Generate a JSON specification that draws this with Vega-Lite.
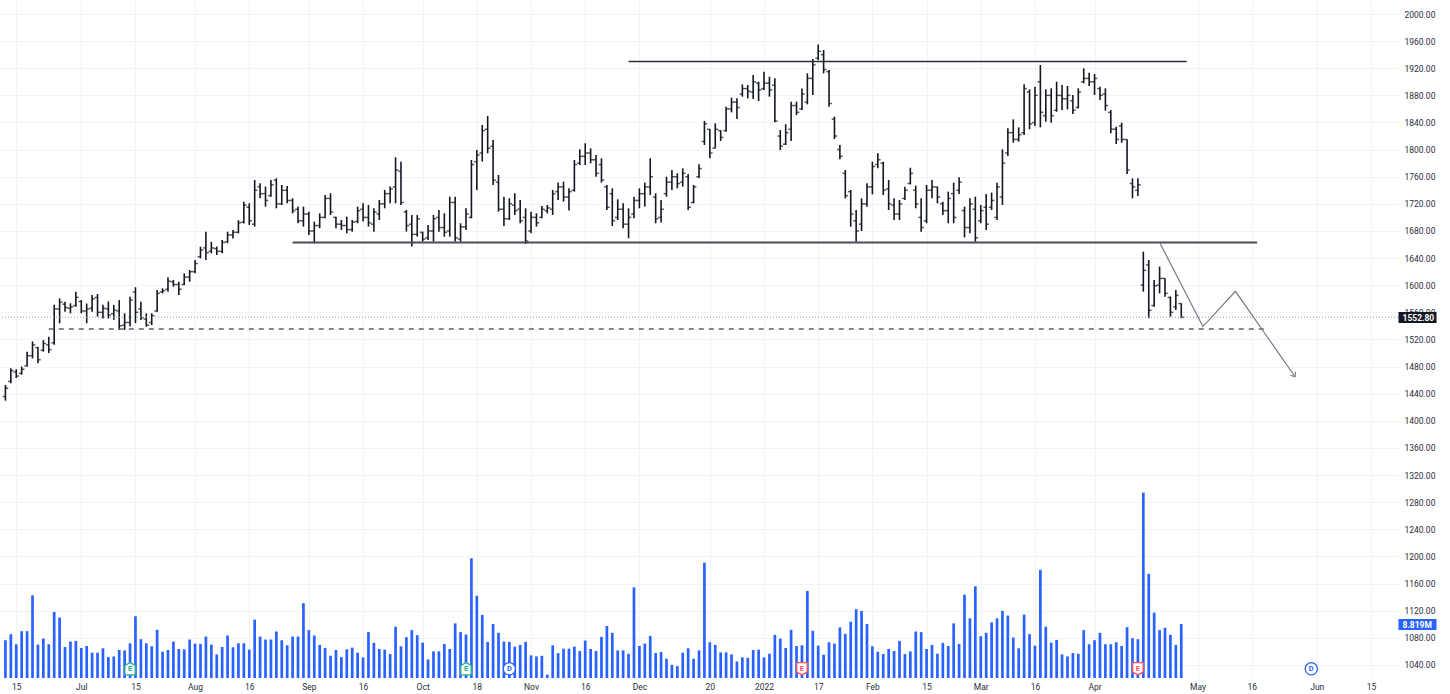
{
  "$schema": "https://vega.github.io/schema/vega-lite/v6.json",
  "width": 1398,
  "height": 678,
  "autosize": {"type": "none"},
  "padding": {"left": 0, "top": 0, "right": 52, "bottom": 16},
  "background": "#ffffff",
  "config": {
    "view": {"stroke": null},
    "font": "Roboto",
    "axis": {"labelFont": "Roboto", "titleFont": "Roboto"}
  },
  "datasets": {
    "bars": [
      {"date":"2021-06-11","open":1436,"high":1452.8,"low":1429.7,"close":1448,"volume":6170000},
      {"date":"2021-06-14","open":1458,"high":1477.4,"low":1455.3,"close":1474,"volume":7160000},
      {"date":"2021-06-15","open":1472,"high":1476,"low":1463,"close":1466,"volume":5510000},
      {"date":"2021-06-16","open":1470,"high":1480,"low":1468,"close":1476,"volume":7650000},
      {"date":"2021-06-17","open":1481,"high":1502,"low":1480,"close":1496,"volume":7650000},
      {"date":"2021-06-18","open":1496,"high":1517,"low":1492,"close":1512,"volume":13490000},
      {"date":"2021-06-21","open":1508,"high":1509,"low":1485,"close":1490,"volume":5450000},
      {"date":"2021-06-22","open":1504,"high":1519,"low":1502,"close":1514,"volume":6440000},
      {"date":"2021-06-23","open":1512,"high":1524,"low":1500,"close":1505,"volume":5510000},
      {"date":"2021-06-24","open":1515,"high":1571,"low":1512,"close":1565,"volume":10790000},
      {"date":"2021-06-25","open":1565,"high":1580.6,"low":1543.8,"close":1575,"volume":9860000},
      {"date":"2021-06-28","open":1572,"high":1575.7,"low":1561,"close":1567,"volume":5070000},
      {"date":"2021-06-29","open":1566,"high":1573.3,"low":1558.5,"close":1568,"volume":5950000},
      {"date":"2021-06-30","open":1570,"high":1590.5,"low":1568.3,"close":1582,"volume":6060000},
      {"date":"2021-07-01","open":1576,"high":1578,"low":1558.5,"close":1562,"volume":4900000},
      {"date":"2021-07-02","open":1562,"high":1573,"low":1544,"close":1565,"volume":5230000},
      {"date":"2021-07-05","open":1566,"high":1585.5,"low":1561,"close":1580,"volume":4130000},
      {"date":"2021-07-06","open":1582,"high":1587,"low":1553.6,"close":1560,"volume":4130000},
      {"date":"2021-07-07","open":1560,"high":1571,"low":1551,"close":1566,"volume":4850000},
      {"date":"2021-07-08","open":1565,"high":1576,"low":1551,"close":1556,"volume":3410000},
      {"date":"2021-07-09","open":1558,"high":1571,"low":1549,"close":1563,"volume":3520000},
      {"date":"2021-07-12","open":1562,"high":1578,"low":1534,"close":1540,"volume":4570000},
      {"date":"2021-07-13","open":1541,"high":1558.5,"low":1534,"close":1545,"volume":4510000},
      {"date":"2021-07-14","open":1545,"high":1583,"low":1539,"close":1578,"volume":5670000},
      {"date":"2021-07-15","open":1590,"high":1597,"low":1544,"close":1560,"volume":10080000},
      {"date":"2021-07-16","open":1565,"high":1575.7,"low":1548.7,"close":1552,"volume":6330000},
      {"date":"2021-07-19","open":1550,"high":1558.5,"low":1538.8,"close":1541,"volume":5670000},
      {"date":"2021-07-20","open":1545,"high":1558.5,"low":1541,"close":1555,"volume":5180000},
      {"date":"2021-07-22","open":1562,"high":1593,"low":1561,"close":1588,"volume":7870000},
      {"date":"2021-07-23","open":1590,"high":1595.4,"low":1588,"close":1592,"volume":4290000},
      {"date":"2021-07-26","open":1594,"high":1611.6,"low":1590.5,"close":1606,"volume":4570000},
      {"date":"2021-07-27","open":1605,"high":1607.7,"low":1597.8,"close":1601,"volume":5950000},
      {"date":"2021-07-28","open":1601,"high":1605,"low":1585.5,"close":1594,"volume":4740000},
      {"date":"2021-07-29","open":1601,"high":1617.5,"low":1600,"close":1612,"volume":4680000},
      {"date":"2021-07-30","open":1612,"high":1622.4,"low":1605,"close":1620,"volume":6280000},
      {"date":"2021-08-02","open":1620,"high":1637,"low":1617.5,"close":1632,"volume":5620000},
      {"date":"2021-08-03","open":1642,"high":1656.8,"low":1639.6,"close":1652,"volume":5560000},
      {"date":"2021-08-04","open":1655,"high":1679,"low":1637,"close":1648,"volume":6770000},
      {"date":"2021-08-05","open":1650,"high":1664,"low":1647,"close":1655,"volume":5450000},
      {"date":"2021-08-06","open":1654,"high":1657,"low":1644.5,"close":1650,"volume":3850000},
      {"date":"2021-08-09","open":1650,"high":1666.7,"low":1647,"close":1663,"volume":5070000},
      {"date":"2021-08-10","open":1664,"high":1679,"low":1662,"close":1674,"volume":6940000},
      {"date":"2021-08-11","open":1674,"high":1681.4,"low":1669,"close":1678,"volume":5010000},
      {"date":"2021-08-12","open":1678,"high":1696,"low":1676.5,"close":1692,"volume":5670000},
      {"date":"2021-08-13","open":1693,"high":1723,"low":1691,"close":1718,"volume":5670000},
      {"date":"2021-08-16","open":1715,"high":1720.8,"low":1688.9,"close":1695,"volume":4630000},
      {"date":"2021-08-17","open":1690,"high":1755.2,"low":1686.4,"close":1740,"volume":9530000},
      {"date":"2021-08-18","open":1745,"high":1750.3,"low":1728.2,"close":1735,"volume":6770000},
      {"date":"2021-08-20","open":1735,"high":1745.4,"low":1715.9,"close":1725,"volume":6280000},
      {"date":"2021-08-23","open":1732,"high":1755.2,"low":1730.6,"close":1748,"volume":6280000},
      {"date":"2021-08-24","open":1755,"high":1757.7,"low":1713.4,"close":1720,"volume":7600000},
      {"date":"2021-08-25","open":1720,"high":1747.8,"low":1718.3,"close":1740,"volume":6170000},
      {"date":"2021-08-26","open":1740,"high":1746.4,"low":1720.8,"close":1725,"volume":5340000},
      {"date":"2021-08-27","open":1725,"high":1728.2,"low":1706,"close":1710,"volume":6770000},
      {"date":"2021-08-30","open":1712,"high":1715.9,"low":1691.3,"close":1695,"volume":6770000},
      {"date":"2021-08-31","open":1695,"high":1715.9,"low":1686.4,"close":1705,"volume":12220000},
      {"date":"2021-09-01","open":1705,"high":1708.5,"low":1674.1,"close":1680,"volume":7820000},
      {"date":"2021-09-02","open":1680,"high":1693.8,"low":1661.8,"close":1688,"volume":6940000},
      {"date":"2021-09-03","open":1688,"high":1706,"low":1684,"close":1700,"volume":5400000},
      {"date":"2021-09-06","open":1700,"high":1733,"low":1698.7,"close":1728,"volume":4900000},
      {"date":"2021-09-07","open":1728,"high":1735.6,"low":1703.6,"close":1708,"volume":3630000},
      {"date":"2021-09-08","open":1700,"high":1701,"low":1684,"close":1690,"volume":4570000},
      {"date":"2021-09-09","open":1690,"high":1696.2,"low":1681.5,"close":1688,"volume":3410000},
      {"date":"2021-09-13","open":1688,"high":1701,"low":1676.6,"close":1682,"volume":4680000},
      {"date":"2021-09-14","open":1682,"high":1696.2,"low":1679,"close":1693,"volume":4960000},
      {"date":"2021-09-15","open":1694,"high":1715.9,"low":1691.3,"close":1710,"volume":4130000},
      {"date":"2021-09-16","open":1712,"high":1720.8,"low":1693.8,"close":1700,"volume":3360000},
      {"date":"2021-09-17","open":1700,"high":1718.3,"low":1686.4,"close":1692,"volume":7490000},
      {"date":"2021-09-20","open":1690,"high":1713.4,"low":1679,"close":1708,"volume":5730000},
      {"date":"2021-09-21","open":1705,"high":1725.7,"low":1696.2,"close":1720,"volume":4740000},
      {"date":"2021-09-22","open":1720,"high":1740.5,"low":1713.4,"close":1735,"volume":4630000},
      {"date":"2021-09-23","open":1735,"high":1745.4,"low":1720.8,"close":1742,"volume":3910000},
      {"date":"2021-09-24","open":1745,"high":1788.6,"low":1720.8,"close":1770,"volume":8370000},
      {"date":"2021-09-27","open":1768,"high":1782.2,"low":1718.3,"close":1722,"volume":5180000},
      {"date":"2021-09-28","open":1708,"high":1711,"low":1679,"close":1688,"volume":6660000},
      {"date":"2021-09-29","open":1690,"high":1703.6,"low":1656.9,"close":1675,"volume":7820000},
      {"date":"2021-09-30","open":1675,"high":1703.6,"low":1671.6,"close":1698,"volume":6990000},
      {"date":"2021-10-01","open":1678,"high":1679,"low":1664.3,"close":1668,"volume":5780000},
      {"date":"2021-10-04","open":1670,"high":1688.9,"low":1666.7,"close":1680,"volume":3030000},
      {"date":"2021-10-05","open":1680,"high":1703.6,"low":1664.3,"close":1698,"volume":4350000},
      {"date":"2021-10-06","open":1700,"high":1711,"low":1679,"close":1685,"volume":4350000},
      {"date":"2021-10-07","open":1685,"high":1706,"low":1671.6,"close":1678,"volume":5560000},
      {"date":"2021-10-08","open":1680,"high":1730.6,"low":1671.6,"close":1722,"volume":4740000},
      {"date":"2021-10-11","open":1722,"high":1730.6,"low":1664.3,"close":1670,"volume":8920000},
      {"date":"2021-10-12","open":1668,"high":1691.3,"low":1664.3,"close":1686,"volume":7490000},
      {"date":"2021-10-13","open":1686,"high":1713.4,"low":1681.5,"close":1705,"volume":7100000},
      {"date":"2021-10-14","open":1700,"high":1784.7,"low":1698.7,"close":1778,"volume":19550000},
      {"date":"2021-10-18","open":1782,"high":1799.5,"low":1740.5,"close":1792,"volume":13430000},
      {"date":"2021-10-19","open":1795,"high":1836.3,"low":1782.3,"close":1828,"volume":10300000},
      {"date":"2021-10-20","open":1830,"high":1849.6,"low":1794.5,"close":1802,"volume":5890000},
      {"date":"2021-10-21","open":1805,"high":1814.2,"low":1747.8,"close":1755,"volume":8810000},
      {"date":"2021-10-22","open":1752,"high":1762.6,"low":1708.5,"close":1712,"volume":7380000},
      {"date":"2021-10-25","open":1712,"high":1730.6,"low":1687.4,"close":1698,"volume":5950000},
      {"date":"2021-10-26","open":1698,"high":1728.2,"low":1696.2,"close":1720,"volume":5890000},
      {"date":"2021-10-27","open":1718,"high":1735.6,"low":1703.6,"close":1710,"volume":5120000},
      {"date":"2021-10-28","open":1712,"high":1725.7,"low":1691.3,"close":1695,"volume":5400000},
      {"date":"2021-10-29","open":1700,"high":1713.4,"low":1660.8,"close":1665,"volume":5890000},
      {"date":"2021-11-01","open":1680,"high":1708.5,"low":1676.6,"close":1700,"volume":3690000},
      {"date":"2021-11-02","open":1700,"high":1706,"low":1686.4,"close":1692,"volume":3520000},
      {"date":"2021-11-03","open":1700,"high":1716.9,"low":1698.7,"close":1712,"volume":3630000},
      {"date":"2021-11-04","open":1710,"high":1718.3,"low":1706,"close":1714,"volume":550000},
      {"date":"2021-11-08","open":1712,"high":1740.5,"low":1703.6,"close":1735,"volume":5340000},
      {"date":"2021-11-09","open":1738,"high":1751.3,"low":1725.7,"close":1745,"volume":4070000},
      {"date":"2021-11-10","open":1745,"high":1752.8,"low":1723.3,"close":1730,"volume":4790000},
      {"date":"2021-11-11","open":1730,"high":1742.9,"low":1710,"close":1738,"volume":4790000},
      {"date":"2021-11-12","open":1740,"high":1784.7,"low":1738,"close":1778,"volume":5120000},
      {"date":"2021-11-15","open":1780,"high":1800.4,"low":1777.3,"close":1790,"volume":4400000},
      {"date":"2021-11-16","open":1790,"high":1809.3,"low":1777.3,"close":1795,"volume":6110000},
      {"date":"2021-11-17","open":1795,"high":1801.9,"low":1779.8,"close":1785,"volume":4740000},
      {"date":"2021-11-18","open":1785,"high":1792.1,"low":1760.1,"close":1765,"volume":4400000},
      {"date":"2021-11-22","open":1778,"high":1787.2,"low":1751.3,"close":1755,"volume":6720000},
      {"date":"2021-11-23","open":1745,"high":1747.8,"low":1711,"close":1715,"volume":8480000},
      {"date":"2021-11-24","open":1735,"high":1742.9,"low":1687.4,"close":1695,"volume":7380000},
      {"date":"2021-11-25","open":1700,"high":1726.7,"low":1696.2,"close":1712,"volume":4510000},
      {"date":"2021-11-26","open":1712,"high":1720.8,"low":1683.9,"close":1690,"volume":4510000},
      {"date":"2021-11-29","open":1690,"high":1713.4,"low":1669.2,"close":1700,"volume":3960000},
      {"date":"2021-11-30","open":1705,"high":1730.6,"low":1698.7,"close":1725,"volume":14810000},
      {"date":"2021-12-01","open":1725,"high":1742.9,"low":1713.4,"close":1735,"volume":5230000},
      {"date":"2021-12-02","open":1735,"high":1751.3,"low":1715.9,"close":1745,"volume":5620000},
      {"date":"2021-12-03","open":1745,"high":1787.2,"low":1733.1,"close":1760,"volume":6880000},
      {"date":"2021-12-06","open":1730,"high":1735.6,"low":1691.3,"close":1698,"volume":4070000},
      {"date":"2021-12-07","open":1700,"high":1725.7,"low":1692.3,"close":1712,"volume":4240000},
      {"date":"2021-12-08","open":1735,"high":1760.1,"low":1730.6,"close":1752,"volume":3140000},
      {"date":"2021-12-09","open":1752,"high":1770,"low":1740.5,"close":1760,"volume":2150000},
      {"date":"2021-12-10","open":1760,"high":1765.1,"low":1742.9,"close":1750,"volume":1930000},
      {"date":"2021-12-13","open":1752,"high":1772.4,"low":1745.4,"close":1765,"volume":4130000},
      {"date":"2021-12-14","open":1760,"high":1764.1,"low":1711,"close":1715,"volume":4850000},
      {"date":"2021-12-15","open":1722,"high":1747.8,"low":1720.7,"close":1745,"volume":3140000},
      {"date":"2021-12-16","open":1760,"high":1778.3,"low":1757.6,"close":1772,"volume":4510000},
      {"date":"2021-12-17","open":1812,"high":1842.2,"low":1806.8,"close":1838,"volume":18830000},
      {"date":"2021-12-20","open":1830,"high":1830.4,"low":1787.1,"close":1795,"volume":5840000},
      {"date":"2021-12-21","open":1802,"high":1838.7,"low":1801.9,"close":1830,"volume":5400000},
      {"date":"2021-12-22","open":1828,"high":1828.9,"low":1812.7,"close":1818,"volume":4180000},
      {"date":"2021-12-23","open":1828,"high":1863.3,"low":1826.4,"close":1860,"volume":4180000},
      {"date":"2021-12-24","open":1860,"high":1876.6,"low":1854.9,"close":1870,"volume":3850000},
      {"date":"2021-12-27","open":1870,"high":1875.6,"low":1845.1,"close":1862,"volume":2700000},
      {"date":"2021-12-28","open":1882,"high":1896.2,"low":1878.1,"close":1890,"volume":3360000},
      {"date":"2021-12-29","open":1890,"high":1895.3,"low":1875.6,"close":1886,"volume":3300000},
      {"date":"2021-12-30","open":1885,"high":1910,"low":1874.6,"close":1900,"volume":4570000},
      {"date":"2021-12-31","open":1898,"high":1900.2,"low":1871.7,"close":1888,"volume":4630000},
      {"date":"2022-01-03","open":1890,"high":1914.9,"low":1887.9,"close":1898,"volume":3360000},
      {"date":"2022-01-04","open":1898,"high":1907.5,"low":1878.1,"close":1888,"volume":3960000},
      {"date":"2022-01-05","open":1895,"high":1905.1,"low":1840.2,"close":1842,"volume":7050000},
      {"date":"2022-01-06","open":1820,"high":1828.9,"low":1799.4,"close":1805,"volume":6440000},
      {"date":"2022-01-07","open":1808,"high":1837.3,"low":1806.8,"close":1825,"volume":4900000},
      {"date":"2022-01-10","open":1830,"high":1870.7,"low":1812.7,"close":1865,"volume":7870000},
      {"date":"2022-01-11","open":1865,"high":1870.7,"low":1851,"close":1855,"volume":5230000},
      {"date":"2022-01-12","open":1860,"high":1890.3,"low":1858.4,"close":1882,"volume":5340000},
      {"date":"2022-01-13","open":1870,"high":1912.5,"low":1866.7,"close":1905,"volume":14210000},
      {"date":"2022-01-14","open":1905,"high":1933.6,"low":1880.5,"close":1925,"volume":7710000},
      {"date":"2022-01-17","open":1935,"high":1955.2,"low":1932.1,"close":1945,"volume":5290000},
      {"date":"2022-01-18","open":1940,"high":1946.9,"low":1912.5,"close":1918,"volume":3800000},
      {"date":"2022-01-19","open":1915,"high":1917.4,"low":1863.3,"close":1868,"volume":5840000},
      {"date":"2022-01-20","open":1845,"high":1848.6,"low":1815.6,"close":1820,"volume":5620000},
      {"date":"2022-01-21","open":1800,"high":1806.8,"low":1785.6,"close":1790,"volume":8260000},
      {"date":"2022-01-24","open":1765,"high":1769.9,"low":1728.1,"close":1732,"volume":7210000},
      {"date":"2022-01-25","open":1738,"high":1740.4,"low":1686.3,"close":1705,"volume":9200000},
      {"date":"2022-01-27","open":1695,"high":1710.9,"low":1664.2,"close":1680,"volume":11230000},
      {"date":"2022-01-28","open":1690,"high":1728.1,"low":1679.9,"close":1720,"volume":10960000},
      {"date":"2022-01-31","open":1720,"high":1750.2,"low":1715.8,"close":1745,"volume":8810000},
      {"date":"2022-02-01","open":1745,"high":1782.2,"low":1734,"close":1775,"volume":5180000},
      {"date":"2022-02-02","open":1778,"high":1794.5,"low":1772.4,"close":1785,"volume":4290000},
      {"date":"2022-02-03","open":1780,"high":1782.2,"low":1733,"close":1740,"volume":3910000},
      {"date":"2022-02-04","open":1742,"high":1755.2,"low":1710.9,"close":1720,"volume":4740000},
      {"date":"2022-02-07","open":1718,"high":1728.1,"low":1696.2,"close":1705,"volume":4400000},
      {"date":"2022-02-08","open":1705,"high":1725.7,"low":1696.2,"close":1720,"volume":6060000},
      {"date":"2022-02-09","open":1728,"high":1745.3,"low":1725.7,"close":1740,"volume":3910000},
      {"date":"2022-02-10","open":1750,"high":1773.3,"low":1748.8,"close":1765,"volume":4350000},
      {"date":"2022-02-11","open":1740,"high":1746.8,"low":1713.4,"close":1720,"volume":7600000},
      {"date":"2022-02-14","open":1700,"high":1728.1,"low":1679,"close":1685,"volume":7490000},
      {"date":"2022-02-15","open":1695,"high":1747.8,"low":1691.3,"close":1740,"volume":4740000},
      {"date":"2022-02-16","open":1740,"high":1755.2,"low":1728.1,"close":1745,"volume":5400000},
      {"date":"2022-02-17","open":1745,"high":1745.3,"low":1720.7,"close":1730,"volume":3960000},
      {"date":"2022-02-18","open":1720,"high":1723.2,"low":1703.6,"close":1710,"volume":5730000},
      {"date":"2022-02-21","open":1710,"high":1738,"low":1691.3,"close":1728,"volume":5230000},
      {"date":"2022-02-22","open":1735,"high":1751.2,"low":1691.3,"close":1700,"volume":8920000},
      {"date":"2022-02-23","open":1740,"high":1759.1,"low":1734.5,"close":1752,"volume":5560000},
      {"date":"2022-02-24","open":1710,"high":1715.8,"low":1670.6,"close":1685,"volume":13600000},
      {"date":"2022-02-25","open":1685,"high":1728.1,"low":1676.5,"close":1720,"volume":9750000},
      {"date":"2022-02-28","open":1712,"high":1730.6,"low":1664.2,"close":1670,"volume":14980000},
      {"date":"2022-03-02","open":1695,"high":1718.3,"low":1691.3,"close":1710,"volume":6830000},
      {"date":"2022-03-03","open":1715,"high":1734.5,"low":1681.4,"close":1690,"volume":7380000},
      {"date":"2022-03-04","open":1715,"high":1736.5,"low":1710.9,"close":1725,"volume":9080000},
      {"date":"2022-03-07","open":1700,"high":1751.2,"low":1696.2,"close":1745,"volume":9750000},
      {"date":"2022-03-08","open":1730,"high":1800.4,"low":1718.3,"close":1780,"volume":10960000},
      {"date":"2022-03-09","open":1795,"high":1831.4,"low":1790.6,"close":1825,"volume":10190000},
      {"date":"2022-03-10","open":1825,"high":1844.6,"low":1810.2,"close":1815,"volume":6610000},
      {"date":"2022-03-11","open":1815,"high":1832.8,"low":1811.7,"close":1822,"volume":4850000},
      {"date":"2022-03-14","open":1825,"high":1896.3,"low":1821.5,"close":1890,"volume":10350000},
      {"date":"2022-03-15","open":1885,"high":1888.9,"low":1829.9,"close":1838,"volume":7160000},
      {"date":"2022-03-16","open":1840,"high":1892.8,"low":1834.8,"close":1880,"volume":5290000},
      {"date":"2022-03-17","open":1900,"high":1924.8,"low":1832.8,"close":1855,"volume":17670000},
      {"date":"2022-03-21","open":1850,"high":1888.9,"low":1841.2,"close":1880,"volume":8370000},
      {"date":"2022-03-22","open":1880,"high":1890.4,"low":1839.7,"close":1850,"volume":5780000},
      {"date":"2022-03-23","open":1858,"high":1900.2,"low":1855.9,"close":1880,"volume":6220000},
      {"date":"2022-03-24","open":1880,"high":1895.3,"low":1858.4,"close":1875,"volume":3850000},
      {"date":"2022-03-25","open":1875,"high":1893.8,"low":1859.4,"close":1880,"volume":3520000},
      {"date":"2022-03-28","open":1872,"high":1880.5,"low":1852.5,"close":1858,"volume":4070000},
      {"date":"2022-03-29","open":1862,"high":1890.4,"low":1860.9,"close":1885,"volume":3960000},
      {"date":"2022-03-30","open":1900,"high":1919.9,"low":1897.7,"close":1905,"volume":7820000},
      {"date":"2022-03-31","open":1905,"high":1913.5,"low":1893.8,"close":1900,"volume":5510000},
      {"date":"2022-04-01","open":1900,"high":1911.5,"low":1880.5,"close":1905,"volume":6170000},
      {"date":"2022-04-04","open":1890,"high":1892.8,"low":1873.2,"close":1880,"volume":7380000},
      {"date":"2022-04-05","open":1882,"high":1890.4,"low":1857.4,"close":1865,"volume":5510000},
      {"date":"2022-04-06","open":1855,"high":1858.4,"low":1824,"close":1830,"volume":5510000},
      {"date":"2022-04-07","open":1830,"high":1833.8,"low":1808.3,"close":1815,"volume":5840000},
      {"date":"2022-04-08","open":1835,"high":1839.7,"low":1810.2,"close":1815,"volume":5230000},
      {"date":"2022-04-11","open":1815,"high":1815.1,"low":1764,"close":1770,"volume":8310000},
      {"date":"2022-04-12","open":1750,"high":1757.6,"low":1728.1,"close":1745,"volume":6500000},
      {"date":"2022-04-13","open":1740,"high":1757.6,"low":1731.6,"close":1748,"volume":6330000},
      {"date":"2022-04-18","open":1600,"high":1649.5,"low":1590.5,"close":1622,"volume":30280000},
      {"date":"2022-04-19","open":1630,"high":1637.2,"low":1551.2,"close":1563,"volume":17010000},
      {"date":"2022-04-20","open":1570,"high":1607.7,"low":1568.4,"close":1599,"volume":10680000},
      {"date":"2022-04-21","open":1600,"high":1627.4,"low":1588,"close":1610,"volume":7820000},
      {"date":"2022-04-22","open":1610,"high":1610.2,"low":1583.1,"close":1588,"volume":8200000},
      {"date":"2022-04-25","open":1582,"high":1583.1,"low":1553.6,"close":1560,"volume":7050000},
      {"date":"2022-04-26","open":1568,"high":1593,"low":1563.5,"close":1585,"volume":5400000},
      {"date":"2022-04-27","open":1573,"high":1573.3,"low":1551.2,"close":1552.8,"volume":8819000}
    ],
    "levels": [
      {"date":"2021-11-29","end":"2022-04-28","price":1930,"kind":"resistance"},
      {"date":"2021-08-27","end":"2022-05-17","price":1663,"kind":"support"},
      {"date":"2021-06-23","end":"2022-05-19","price":1535.5,"kind":"target"}
    ],
    "path": [
      {"date":"2022-04-21","price":1663,"step":1},
      {"date":"2022-05-03","price":1539,"step":2},
      {"date":"2022-05-11","price":1591,"step":3},
      {"date":"2022-05-26","price":1465,"step":4}
    ],
    "events": [
      {"date":"2021-07-14","event":"E","kind":"beat"},
      {"date":"2021-10-13","event":"E","kind":"beat"},
      {"date":"2021-10-26","event":"D","kind":"dividend"},
      {"date":"2022-01-12","event":"E","kind":"miss"},
      {"date":"2022-04-13","event":"E","kind":"miss"},
      {"date":"2022-05-31","event":"D","kind":"dividend"}
    ]
  },
  "resolve": {"scale": {"y": "independent"}, "axis": {"y": "independent"}},
  "layer": [
    {
      "data": {"name": "bars"},
      "mark": {"type": "bar", "color": "#2962ff", "size": 2.7},
      "encoding": {
        "x": {
          "field": "date", "type": "ordinal",
          "scale": {"type": "point", "padding": 1.858, "domain": [
            "2021-06-11","2021-06-14","2021-06-15","2021-06-16","2021-06-17","2021-06-18","2021-06-21","2021-06-22","2021-06-23","2021-06-24","2021-06-25","2021-06-28","2021-06-29","2021-06-30",
            "2021-07-01","2021-07-02","2021-07-05","2021-07-06","2021-07-07","2021-07-08","2021-07-09","2021-07-12","2021-07-13","2021-07-14","2021-07-15","2021-07-16","2021-07-19","2021-07-20","2021-07-22","2021-07-23","2021-07-26","2021-07-27","2021-07-28","2021-07-29","2021-07-30",
            "2021-08-02","2021-08-03","2021-08-04","2021-08-05","2021-08-06","2021-08-09","2021-08-10","2021-08-11","2021-08-12","2021-08-13","2021-08-16","2021-08-17","2021-08-18","2021-08-20","2021-08-23","2021-08-24","2021-08-25","2021-08-26","2021-08-27","2021-08-30","2021-08-31",
            "2021-09-01","2021-09-02","2021-09-03","2021-09-06","2021-09-07","2021-09-08","2021-09-09","2021-09-13","2021-09-14","2021-09-15","2021-09-16","2021-09-17","2021-09-20","2021-09-21","2021-09-22","2021-09-23","2021-09-24","2021-09-27","2021-09-28","2021-09-29","2021-09-30",
            "2021-10-01","2021-10-04","2021-10-05","2021-10-06","2021-10-07","2021-10-08","2021-10-11","2021-10-12","2021-10-13","2021-10-14","2021-10-18","2021-10-19","2021-10-20","2021-10-21","2021-10-22","2021-10-25","2021-10-26","2021-10-27","2021-10-28","2021-10-29",
            "2021-11-01","2021-11-02","2021-11-03","2021-11-04","2021-11-08","2021-11-09","2021-11-10","2021-11-11","2021-11-12","2021-11-15","2021-11-16","2021-11-17","2021-11-18","2021-11-22","2021-11-23","2021-11-24","2021-11-25","2021-11-26","2021-11-29","2021-11-30",
            "2021-12-01","2021-12-02","2021-12-03","2021-12-06","2021-12-07","2021-12-08","2021-12-09","2021-12-10","2021-12-13","2021-12-14","2021-12-15","2021-12-16","2021-12-17","2021-12-20","2021-12-21","2021-12-22","2021-12-23","2021-12-24","2021-12-27","2021-12-28","2021-12-29","2021-12-30","2021-12-31",
            "2022-01-03","2022-01-04","2022-01-05","2022-01-06","2022-01-07","2022-01-10","2022-01-11","2022-01-12","2022-01-13","2022-01-14","2022-01-17","2022-01-18","2022-01-19","2022-01-20","2022-01-21","2022-01-24","2022-01-25","2022-01-27","2022-01-28","2022-01-31",
            "2022-02-01","2022-02-02","2022-02-03","2022-02-04","2022-02-07","2022-02-08","2022-02-09","2022-02-10","2022-02-11","2022-02-14","2022-02-15","2022-02-16","2022-02-17","2022-02-18","2022-02-21","2022-02-22","2022-02-23","2022-02-24","2022-02-25","2022-02-28",
            "2022-03-02","2022-03-03","2022-03-04","2022-03-07","2022-03-08","2022-03-09","2022-03-10","2022-03-11","2022-03-14","2022-03-15","2022-03-16","2022-03-17","2022-03-21","2022-03-22","2022-03-23","2022-03-24","2022-03-25","2022-03-28","2022-03-29","2022-03-30","2022-03-31",
            "2022-04-01","2022-04-04","2022-04-05","2022-04-06","2022-04-07","2022-04-08","2022-04-11","2022-04-12","2022-04-13","2022-04-18","2022-04-19","2022-04-20","2022-04-21","2022-04-22","2022-04-25","2022-04-26","2022-04-27","2022-04-28","2022-04-29",
            "2022-05-02","2022-05-03","2022-05-04","2022-05-05","2022-05-06","2022-05-09","2022-05-10","2022-05-11","2022-05-12","2022-05-13","2022-05-16","2022-05-17","2022-05-18","2022-05-19","2022-05-20","2022-05-23","2022-05-24","2022-05-25","2022-05-26","2022-05-27","2022-05-30","2022-05-31",
            "2022-06-01","2022-06-02","2022-06-03","2022-06-06","2022-06-07","2022-06-08","2022-06-09","2022-06-10","2022-06-13","2022-06-14","2022-06-15","2022-06-16","2022-06-17","2022-06-20","2022-06-21"
          ]},
          "axis": {
            "orient": "bottom", "title": null,
            "values": ["2021-06-15","2021-07-01","2021-07-15","2021-08-02","2021-08-16","2021-09-01","2021-09-16","2021-10-01","2021-10-18","2021-11-01","2021-11-16","2021-12-01","2021-12-20","2022-01-03","2022-01-17","2022-02-01","2022-02-15","2022-03-02","2022-03-16","2022-04-01","2022-05-02","2022-05-16","2022-06-01","2022-06-15"],
            "labelExpr": "toNumber(slice(datum.value, 8, 10)) <= 5 ? (slice(datum.value, 5, 7) == '01' ? slice(datum.value, 0, 4) : utcFormat(toDate(datum.value), '%b')) : '' + toNumber(slice(datum.value, 8, 10))",
            "grid": true, "gridColor": "#f0f3fa", "gridWidth": 1,
            "domain": false, "ticks": false,
            "labelFontSize": 8.5, "labelColor": "#2a2e39", "labelPadding": 4,
            "labelAngle": 0, "labelOverlap": false, "labelFlush": false
          }
        },
        "y": {
          "field": "volume", "type": "quantitative",
          "scale": {"domain": [0, 110730000], "nice": false, "zero": true},
          "axis": {
            "orient": "right", "title": null, "values": [8819000],
            "labelExpr": "format(datum.value / 1000000, '.3f') + 'M'",
            "grid": false, "domain": false, "ticks": true,
            "tickSize": 38, "tickWidth": 11, "tickColor": "#2962ff",
            "labelColor": "#ffffff", "labelFontSize": 8.5, "labelFontWeight": "bold",
            "labelPadding": -34, "labelAlign": "left", "zindex": 2
          }
        }
      }
    },
    {
      "data": {"name": "bars"},
      "mark": {"type": "rule", "color": "#131722", "strokeWidth": 1.6},
      "encoding": {
        "x": {"field": "date", "type": "ordinal"},
        "y": {
          "field": "low", "type": "quantitative",
          "scale": {"domain": [1020.65, 2020.65], "nice": false, "zero": false},
          "axis": {
            "orient": "right", "title": null,
            "values": [1040,1080,1120,1160,1200,1240,1280,1320,1360,1400,1440,1480,1520,1560,1600,1640,1680,1720,1760,1800,1840,1880,1920,1960,2000],
            "format": ".2f", "grid": true, "gridColor": "#f0f3fa",
            "domain": false, "ticks": false,
            "labelFontSize": 8.5, "labelColor": "#2a2e39", "labelPadding": 6, "labelAlign": "left"
          }
        },
        "y2": {"field": "high"}
      }
    },
    {
      "data": {"name": "bars"},
      "mark": {"type": "tick", "orient": "horizontal", "color": "#131722", "thickness": 1.5, "size": 2.8, "xOffset": -1.4},
      "encoding": {
        "x": {"field": "date", "type": "ordinal"},
        "y": {"field": "open", "type": "quantitative", "scale": {"domain": [1020.65, 2020.65], "nice": false, "zero": false}, "axis": null}
      }
    },
    {
      "data": {"name": "bars"},
      "mark": {"type": "tick", "orient": "horizontal", "color": "#131722", "thickness": 1.5, "size": 2.8, "xOffset": 1.4},
      "encoding": {
        "x": {"field": "date", "type": "ordinal"},
        "y": {"field": "close", "type": "quantitative", "scale": {"domain": [1020.65, 2020.65], "nice": false, "zero": false}, "axis": null}
      }
    },
    {
      "data": {"name": "levels"},
      "transform": [{"filter": "datum.kind == 'resistance'"}],
      "mark": {"type": "rule", "color": "#2a2e39", "strokeWidth": 1.5},
      "encoding": {
        "x": {"field": "date", "type": "ordinal"},
        "x2": {"field": "end"},
        "y": {"field": "price", "type": "quantitative", "scale": {"domain": [1020.65, 2020.65], "nice": false, "zero": false}, "axis": null}
      }
    },
    {
      "data": {"name": "levels"},
      "transform": [{"filter": "datum.kind == 'support'"}],
      "mark": {"type": "rule", "color": "#4a4d57", "strokeWidth": 2},
      "encoding": {
        "x": {"field": "date", "type": "ordinal"},
        "x2": {"field": "end"},
        "y": {"field": "price", "type": "quantitative", "scale": {"domain": [1020.65, 2020.65], "nice": false, "zero": false}, "axis": null}
      }
    },
    {
      "data": {"name": "levels"},
      "transform": [{"filter": "datum.kind == 'target'"}],
      "mark": {"type": "rule", "color": "#5d606b", "strokeWidth": 1.5, "strokeDash": [5, 5]},
      "encoding": {
        "x": {"field": "date", "type": "ordinal"},
        "x2": {"field": "end"},
        "y": {"field": "price", "type": "quantitative", "scale": {"domain": [1020.65, 2020.65], "nice": false, "zero": false}, "axis": null}
      }
    },
    {
      "data": {"name": "path"},
      "mark": {"type": "line", "color": "#787b86", "strokeWidth": 1.2},
      "encoding": {
        "x": {"field": "date", "type": "ordinal"},
        "y": {"field": "price", "type": "quantitative", "scale": {"domain": [1020.65, 2020.65], "nice": false, "zero": false}, "axis": null},
        "order": {"field": "step", "type": "quantitative"}
      }
    },
    {
      "data": {"name": "path"},
      "transform": [{"filter": "datum.step == 4"}],
      "mark": {"type": "point", "shape": "M -0.8 -1 L 0 0 L 0.8 -1", "filled": false, "color": "#787b86", "strokeWidth": 1.2, "size": 60, "angle": 326, "opacity": 1},
      "encoding": {
        "x": {"field": "date", "type": "ordinal"},
        "y": {"field": "price", "type": "quantitative", "scale": {"domain": [1020.65, 2020.65], "nice": false, "zero": false}, "axis": null}
      }
    },
    {
      "data": {"name": "bars"},
      "transform": [{"filter": "datum.date == '2022-04-27'"}],
      "mark": {"type": "rule", "color": "#9598a1", "strokeWidth": 1, "strokeDash": [1, 2]},
      "encoding": {
        "y": {
          "field": "close", "type": "quantitative",
          "scale": {"domain": [1020.65, 2020.65], "nice": false, "zero": false},
          "axis": {
            "orient": "right", "title": null, "values": [1552.8], "format": ".2f",
            "grid": false, "domain": false, "ticks": true,
            "tickSize": 38, "tickWidth": 11, "tickColor": "#131722",
            "labelColor": "#ffffff", "labelFontSize": 8.5, "labelFontWeight": "bold",
            "labelPadding": -34, "labelAlign": "left", "zindex": 2
          }
        }
      }
    },
    {
      "data": {"name": "events"},
      "mark": {"type": "point", "filled": true, "fill": "#ffffff", "size": 150, "strokeWidth": 1.3, "opacity": 1},
      "encoding": {
        "x": {"field": "date", "type": "ordinal"},
        "y": {"datum": 1500000, "type": "quantitative", "scale": {"domain": [0, 110730000], "nice": false, "zero": true}, "axis": null},
        "shape": {"field": "kind", "type": "nominal", "legend": null,
          "scale": {"domain": ["beat", "miss", "dividend"], "range": ["M 0 -1 L 0.85 -0.55 L 0.85 1 L -0.85 1 L -0.85 -0.55 Z", "M -0.85 -1 L 0.85 -1 L 0.85 0.55 L 0 1 L -0.85 0.55 Z", "circle"]}},
        "stroke": {"field": "kind", "type": "nominal", "legend": null,
          "scale": {"domain": ["beat", "miss", "dividend"], "range": ["#22ab94", "#f7525f", "#2962ff"]}}
      }
    },
    {
      "data": {"name": "events"},
      "mark": {"type": "text", "fontSize": 7.5, "fontWeight": "bold", "font": "Roboto", "baseline": "middle", "align": "center"},
      "encoding": {
        "x": {"field": "date", "type": "ordinal"},
        "y": {"datum": 1500000, "type": "quantitative", "scale": {"domain": [0, 110730000], "nice": false, "zero": true}, "axis": null},
        "text": {"field": "event"},
        "color": {"field": "kind", "type": "nominal", "legend": null,
          "scale": {"domain": ["beat", "miss", "dividend"], "range": ["#22ab94", "#f7525f", "#2962ff"]}}
      }
    }
  ]
}
